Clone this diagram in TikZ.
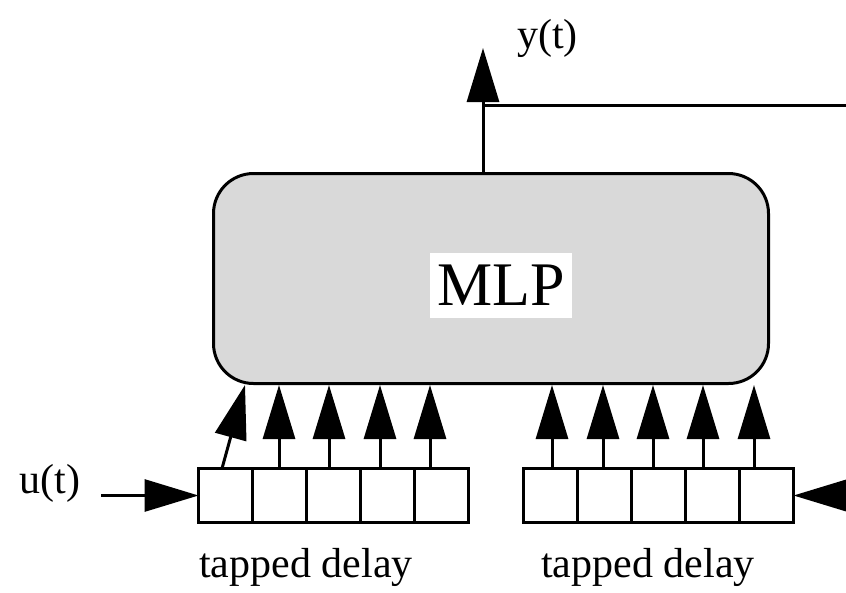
\documentclass[tikz,border=0pt]{standalone}
\usepackage{fontspec}
\setmainfont{Liberation Serif}
\usetikzlibrary{arrows.meta,positioning}

\tikzset{
  cell/.style={draw, line width=3pt, minimum width=54pt, minimum height=54pt,
    inner sep=0pt, outer sep=0pt, fill=white},
  feed/.style={line width=3pt, -{Triangle[length=54pt,width=32pt]}},
  lbl/.style={font=\fontsize{42}{50}\selectfont, inner sep=0pt, anchor=base},
}

\begin{document}
\begin{tikzpicture}[x=1pt, y=-1pt]
        \useasboundingbox (0,0) rectangle (846,592);
        % network block
        \node[draw, line width=3pt, rounded corners=40pt, fill=gray!30,
              minimum width=555pt, minimum height=210pt] (mlp) at (491,278.5) {};
        \node[fill=white, font=\fontsize{62}{70}\selectfont, minimum width=142pt,
              minimum height=65pt, inner sep=0pt] (mlplbl) at (501,285.5) {MLP};
        % tapped delay lines
        \node[cell] (l1) at (225.5,495.5) {};
        \foreach \i [count=\j from 2] in {1,...,4}
            \node[cell, right=0pt of l\i] (l\j) {};
        \node[cell] (r1) at (550.5,495.5) {};
        \foreach \i [count=\j from 2] in {1,...,4}
            \node[cell, right=0pt of r\i] (r\j) {};
        % taps into the MLP
        \draw[feed] ([xshift=-3.5pt]l1.north) -- ([xshift=33pt]mlp.south west);
        \foreach \i/\dx in {2/-0.5, 3/-4.5, 4/-7.5, 5/-11.5}
            \draw[feed] ([xshift=\dx pt]l\i.north) -- ([xshift=\dx pt]l\i.north |- mlp.south);
        \foreach \i/\dx in {1/1.5, 2/-1.5, 3/-5.5, 4/-9.5, 5/-12.5}
            \draw[feed] ([xshift=\dx pt]r\i.north) -- ([xshift=\dx pt]r\i.north |- mlp.south);
        % output and feedback
        \coordinate (ytip) at (483,48);
        \coordinate (tap) at (483,105);
        \coordinate (fbend) at (846,105);
        \draw[feed] ([xshift=-8pt]mlp.north) -- (ytip);
        \draw[line width=3pt] (tap) -- (fbend);
        % inputs
        \coordinate (uin) at (101,495.5);
        \coordinate (rin) at (846,495.5);
        \draw[feed] (uin) -- (l1.west);
        \draw[feed] (rin) -- (r5.east);
        % labels
        \node[lbl] (ylbl) at (547.5,48) {y(t)};
        \node[lbl] (ulbl) at (50,493) {u(t)};
        \node[lbl] (ldly) at (306,577) {tapped delay};
        \node[lbl] (rdly) at (648,577) {tapped delay};
    \end{tikzpicture}
\end{document}
